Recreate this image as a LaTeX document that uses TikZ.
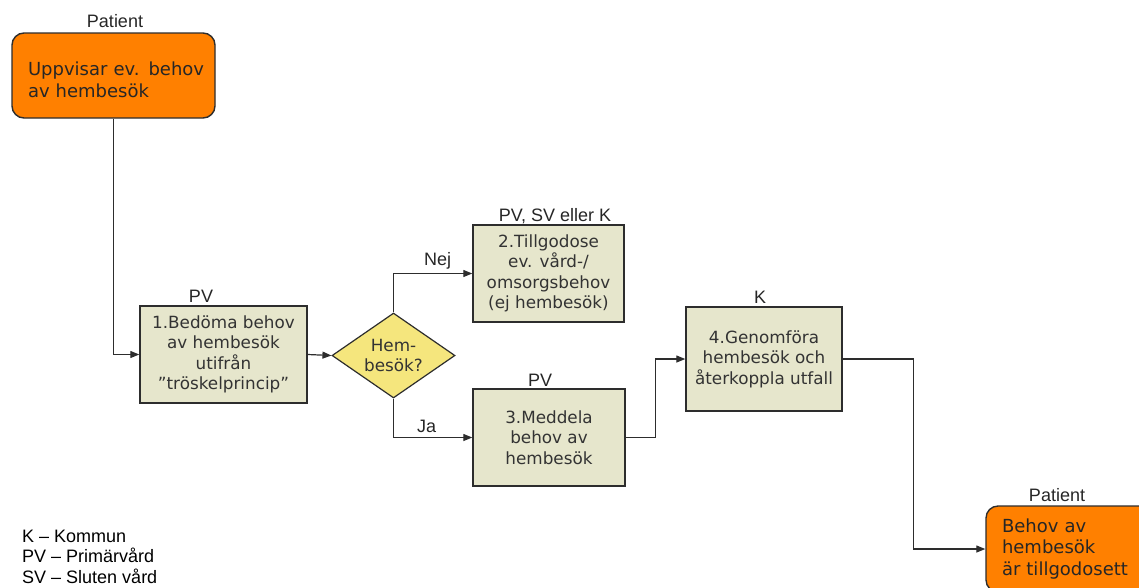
\documentclass[tikz,border=0pt]{standalone}
\usepackage{fontspec}
\setmainfont{DejaVu Sans}
\newfontfamily\arialf{Liberation Sans}
\usetikzlibrary{shapes.geometric,arrows.meta}
\definecolor{pat}{RGB}{255,128,0}
\definecolor{stepfill}{RGB}{230,230,204}
\definecolor{decfill}{RGB}{245,230,125}
\definecolor{edge}{RGB}{45,45,45}
\begin{document}
\begin{tikzpicture}[x=1pt, y=-1pt,
    patbox/.style={draw=edge, line width=1.4pt, fill=pat, rounded corners=12pt, align=left,
      text=black!85, font=\fontsize{18}{21.5}\selectfont, inner xsep=16pt, inner ysep=0pt},
    stepbox/.style={draw=edge, line width=1.4pt, fill=stepfill, align=center, text=black!80,
      font=\fontsize{16.8}{20.5}\selectfont, inner sep=0pt},
    decbox/.style={diamond, draw=edge, line width=1.2pt, fill=decfill, align=center, text=black!80,
      font=\fontsize{16.8}{20}\selectfont, inner sep=0pt, aspect=1.45,
      minimum width=123pt, minimum height=85pt},
    lbl/.style={font=\arialf\fontsize{18}{20.5}\selectfont, text=black!85, inner sep=0pt},
    flow/.style={draw=edge, line width=1.2pt, -{Triangle[length=9pt,width=7pt]}}]
  \useasboundingbox (0,0) rectangle (1139,587);
  \clip (0,0) rectangle (1139,587);

  \node[patbox, text width=171pt, minimum height=85pt] (start) at (113.5,75.5)
    {\rule{0pt}{22pt}\mbox{Uppvisar ev. behov}\\av hembesök};
  \node[lbl] (lstart) at (115,21) {Patient};

  \node[stepbox, minimum width=167pt, minimum height=97pt] (assess) at (223.5,354.5)
    {1.Bedöma behov\\av hembesök\\utifrån\\”tröskelprincip”};
  \node[lbl] (lassess) at (201,296) {PV};

  \node[decbox] (hemb) at (393.5,355.5) {Hem-\\besök?};

  \node[stepbox, minimum width=151pt, minimum height=97pt] (other) at (548.5,273.5)
    {2.Tillgodose\\ev. vård-/\\omsorgsbehov\\(ej hembesök)};
  \node[lbl] (lother) at (555,216) {PV, SV eller K};

  \node[stepbox, minimum width=152pt, minimum height=97pt] (notify) at (549,437.5)
    {3.Meddela\\behov av\\hembesök};
  \node[lbl] (lnotify) at (540,380) {PV};

  \node[stepbox, minimum width=156pt, minimum height=104pt] (visit) at (764,359)
    {4.Genomföra\\hembesök och\\återkoppla utfall};
  \node[lbl] (lvisit) at (760,297) {K};

  \node[patbox, text width=140pt, minimum height=86pt] (done) at (1072,549)
    {Behov av\\hembesök\\är tillgodosett};
  \node[lbl] (ldone) at (1057,495) {Patient};

  \draw[flow] (start.south) |- (assess.west);
  \draw[flow] (assess.east) -- (hemb.west);
  \draw[flow] (hemb.north) |- (other.west) node[lbl, pos=0.78, above=4pt] (nej) {Nej};
  \draw[flow] (hemb.south) |- (notify.west) node[lbl, pos=0.71, above=4pt] (ja) {Ja};
  \draw[flow] (notify.east) -- ++(30,0) |- (visit.west);
  \draw[flow] (visit.east) -- ++(71,0) |- (done.west);

  \node[lbl, anchor=west, align=left, text=black] (legend) at (22,556.5)
    {K – Kommun\\PV – Primärvård\\SV – Sluten vård};
\end{tikzpicture}
\end{document}
